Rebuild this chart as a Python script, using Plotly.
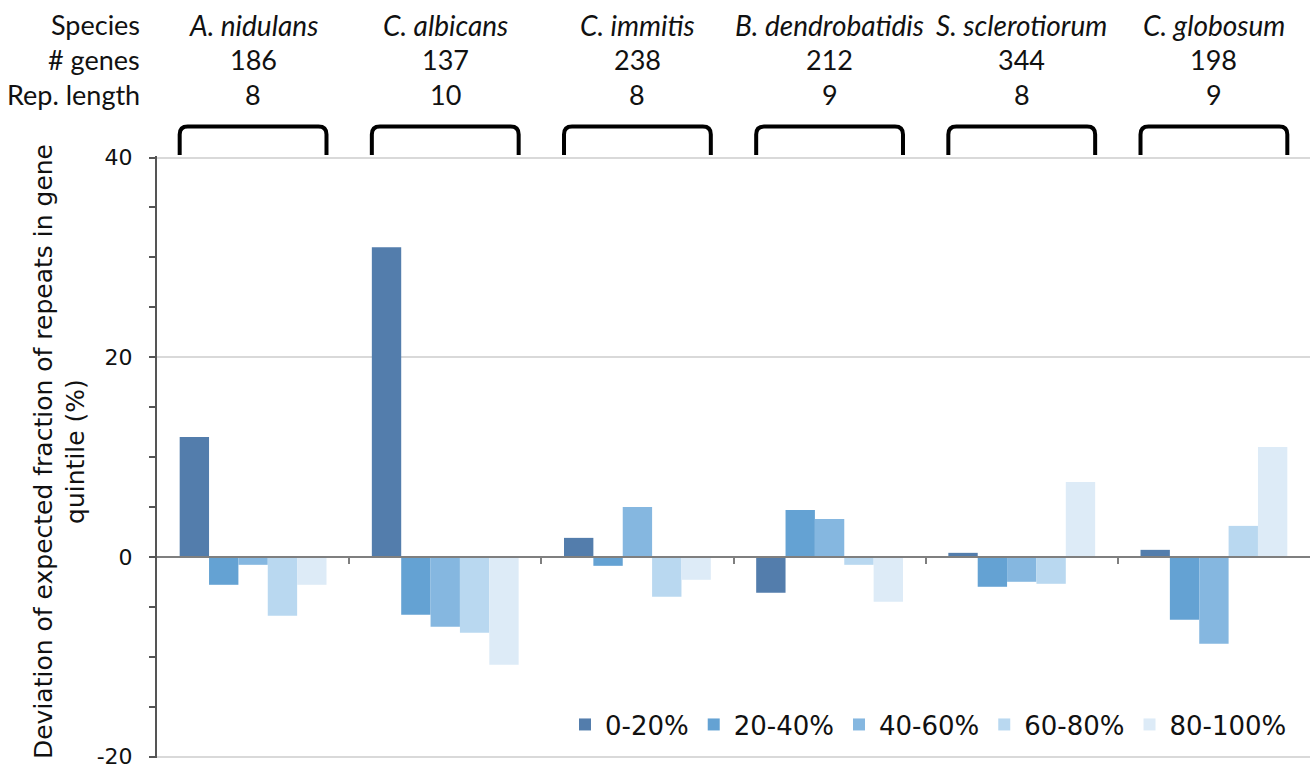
import plotly.graph_objects as go

species = ["A. nidulans", "C. albicans", "C. immitis", "B. dendrobatidis", "S. sclerotiorum", "C. globosum"]
n_genes = [186, 137, 238, 212, 344, 198]
rep_length = [8, 10, 8, 9, 8, 9]

quintiles = ["0-20%", "20-40%", "40-60%", "60-80%", "80-100%"]
q0_20 = [12.0, 31.0, 1.9, -3.6, 0.4, 0.7]
q20_40 = [-2.8, -5.8, -0.9, 4.7, -3.0, -6.3]
q40_60 = [-0.8, -7.0, 5.0, 3.8, -2.5, -8.7]
q60_80 = [-5.9, -7.6, -4.0, -0.8, -2.7, 3.1]
q80_100 = [-2.8, -10.8, -2.3, -4.5, 7.5, 11.0]
series = [q0_20, q20_40, q40_60, q60_80, q80_100]
colors = ["#537DAC", "#64A2D3", "#85B7E0", "#B9D8F0", "#DDEBF7"]

y_ticks = [-20, -15, -10, -5, 0, 5, 10, 15, 20, 25, 30, 35, 40]
y_ticklabels = ["-20", "", "", "", "0", "", "", "", "20", "", "", "", "40"]
y_grid = [-20, 20, 40]
y_range = [-20.15, 40.15]

W, H = 1310, 769
ML, MR, MT, MB = 157, 0, 155.5, 10.5
PW = W - ML - MR
PH = H - MT - MB

xs = list(range(len(species)))
xrange_ = [-0.5, len(species) - 0.5]

fig = go.Figure()
for name, vals, col in zip(quintiles, series, colors):
    fig.add_trace(go.Bar(x=xs, y=vals, name=name, marker=dict(color=col, line=dict(width=0))))
# carriers for the helper axes (line along y = 0, and grid lines)
fig.add_trace(go.Scatter(x=[None], y=[None], xaxis="x2", yaxis="y", showlegend=False, hoverinfo="skip"))
fig.add_trace(go.Scatter(x=[None], y=[None], xaxis="x", yaxis="y2", showlegend=False, hoverinfo="skip"))

BARGAP = 0.236
half = (1 - BARGAP) / 2


def py(pix):
    """paper y fraction from a pixel row"""
    return (H - MB - pix) / PH


shapes = []
rx = 8 / (PW / len(species))
ry = 8 / PH
yt = py(126)
yb = py(154.5)
for i in xs:
    x0, x1 = i - half, i + half
    path = (f"M {x0},{yb} L {x0},{yt - ry} Q {x0},{yt} {x0 + rx},{yt} "
            f"L {x1 - rx},{yt} Q {x1},{yt} {x1},{yt - ry} L {x1},{yb}")
    shapes.append(dict(type="path", path=path, xref="x", yref="paper",
                       line=dict(color="black", width=4)))

annotations = []
hdr_font = dict(family="Lato", size=27, color="#111111")
hdr_font_i = dict(family="Lato", size=28, color="#111111")
row_y = [py(24), py(59), py(94)]
row_labels = ["Species", "# genes", "Rep. length"]
for lbl, yy in zip(row_labels, row_y):
    annotations.append(dict(text=lbl, x=(142 - ML) / PW, y=yy, xref="paper", yref="paper",
                            xanchor="right", yanchor="middle", showarrow=False, font=hdr_font))
for i in xs:
    annotations.append(dict(text=f"<i>{species[i]}</i>", x=i, y=row_y[0], xref="x", yref="paper",
                            xanchor="center", yanchor="middle", showarrow=False, font=hdr_font_i))
    annotations.append(dict(text=str(n_genes[i]), x=i, y=row_y[1], xref="x", yref="paper",
                            xanchor="center", yanchor="middle", showarrow=False, font=hdr_font))
    annotations.append(dict(text=str(rep_length[i]), x=i, y=row_y[2], xref="x", yref="paper",
                            xanchor="center", yanchor="middle", showarrow=False, font=hdr_font))

annotations.append(dict(text="Deviation of expected fraction of repeats in gene<br>quintile (%)",
                        textangle=-90, x=(60 - ML) / PW, y=py(452),
                        xref="paper", yref="paper", xanchor="center", yanchor="middle",
                        showarrow=False, font=dict(family="DejaVu Sans", size=25, color="#111111")))

fig.update_layout(
    width=W, height=H,
    margin=dict(l=ML, r=MR, t=MT, b=MB, autoexpand=False),
    paper_bgcolor="white", plot_bgcolor="white",
    barmode="group", bargap=BARGAP, bargroupgap=0,
    shapes=shapes, annotations=annotations,
    showlegend=True,
    legend=dict(orientation="h", x=(1292 - ML) / PW, xanchor="right",
                y=py(725), yanchor="middle", bgcolor="rgba(0,0,0,0)",
                font=dict(family="DejaVu Sans", size=26, color="#111111"),
                traceorder="normal", itemwidth=30),
    xaxis=dict(range=xrange_, showline=False, ticks="", showticklabels=False,
               showgrid=False, zeroline=False),
    xaxis2=dict(range=xrange_, overlaying="x", anchor="free",
                position=(0 - y_range[0]) / (y_range[1] - y_range[0]),
                showline=True, linecolor="#7f7f7f", linewidth=2,
                tickmode="array", tickvals=[i + 0.5 for i in xs[:-1]],
                ticks="outside", ticklen=6, tickcolor="#7f7f7f", tickwidth=1.5,
                showticklabels=False, showgrid=False, zeroline=False),
    yaxis=dict(range=y_range, tickmode="array", tickvals=y_ticks, ticktext=y_ticklabels,
               ticks="outside", ticklen=6, tickcolor="#555555", tickwidth=1.5,
               showline=True, linecolor="#555555", linewidth=2,
               showgrid=False, zeroline=False,
               ticklabelstandoff=12, ticklabeloverflow="allow",
               tickfont=dict(family="DejaVu Sans", size=22, color="#111111")),
    yaxis2=dict(range=y_range, overlaying="y", side="left", tickmode="array", tickvals=y_grid,
                showticklabels=False, ticks="", showline=False, zeroline=False,
                showgrid=True, gridcolor="#d9d9d9", gridwidth=1.5),
)

fig.write_html("out.html")
